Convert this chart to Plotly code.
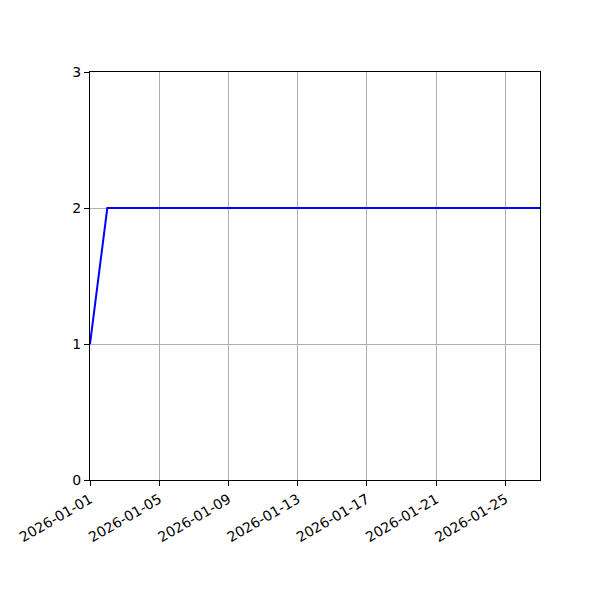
import plotly.graph_objects as go

# daily counts
dates = ['2026-01-%02d' % d for d in range(1, 28)]
values = [1, 2, 2, 2, 2, 2, 2, 2, 2, 2, 2, 2, 2, 2,
          2, 2, 2, 2, 2, 2, 2, 2, 2, 2, 2, 2, 2]

fig = go.Figure()
fig.add_trace(go.Scatter(
    x=dates, y=values, mode='lines',
    line=dict(color='#0000ff', width=2),
    showlegend=False,
))

axis_style = dict(
    showline=True, linecolor='black', linewidth=1, mirror=True,
    ticks='outside', ticklen=5, tickcolor='black', tickwidth=1,
    showgrid=True, gridcolor='#b0b0b0', gridwidth=1,
    zeroline=False, automargin=False,
    tickfont=dict(family='DejaVu Sans', size=14, color='black'),
)

# page body has an 8px margin, so take it off left/top
fig.update_layout(
    width=600, height=600,
    margin=dict(l=82, r=68, t=64, b=128),
    paper_bgcolor='white', plot_bgcolor='white',
    xaxis=dict(
        axis_style,
        type='date',
        range=[dates[0], dates[-1]],
        tick0=dates[0], dtick=4 * 86400000,
        tickformat='%Y-%m-%d',
        tickangle=-30,
    ),
    yaxis=dict(
        axis_style,
        range=[0, 3],
        tickvals=[0, 1, 2, 3],
    ),
)

fig.write_html("out.html")
